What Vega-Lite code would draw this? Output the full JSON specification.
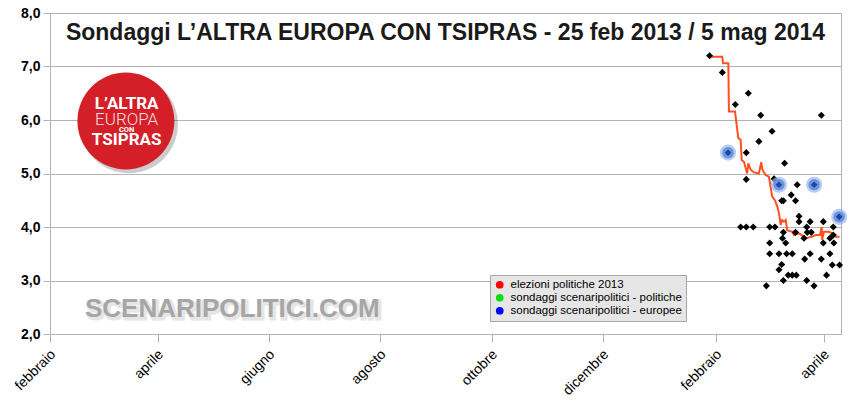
{
  "$schema": "https://vega.github.io/schema/vega-lite/v6.json",
  "width": 791,
  "height": 321,
  "autosize": {"type": "none"},
  "padding": {"left": 50, "top": 13, "right": 15, "bottom": 79},
  "background": "#ffffff",
  "title": {"text": "Sondaggi L’ALTRA EUROPA CON TSIPRAS - 25 feb 2013 / 5 mag 2014", "fontWeight": "bold", "fontSize": 23, "color": "#1a1a1a", "anchor": "middle", "frame": "group", "baseline": "alphabetic", "offset": -57},
  "config": {
    "font": "Liberation Sans",
    "view": {"stroke": "#b3b3b3", "strokeWidth": 1}
  },
  "datasets": {
    "sondaggi": [
      {"date": "2014-01-28T12:00", "value": 7.2},
      {"date": "2014-02-04T11:00", "value": 6.89},
      {"date": "2014-02-18T17:00", "value": 6.5},
      {"date": "2014-02-11T14:00", "value": 6.29},
      {"date": "2014-02-25T12:00", "value": 6.09},
      {"date": "2014-03-30T17:00", "value": 6.09},
      {"date": "2014-03-03T17:00", "value": 5.79},
      {"date": "2014-02-24T12:00", "value": 5.6},
      {"date": "2014-02-17T14:00", "value": 5.39},
      {"date": "2014-03-10T14:00", "value": 5.19},
      {"date": "2014-02-17T14:00", "value": 4.89},
      {"date": "2014-03-04T19:00", "value": 4.9},
      {"date": "2014-03-17T12:00", "value": 4.79},
      {"date": "2014-03-14T05:00", "value": 4.6},
      {"date": "2014-03-16T14:00", "value": 4.49},
      {"date": "2014-03-09T00:00", "value": 4.49},
      {"date": "2014-03-09T22:00", "value": 4.49},
      {"date": "2014-03-18T12:00", "value": 4.2},
      {"date": "2014-03-18T12:00", "value": 4.1},
      {"date": "2014-03-24T14:00", "value": 4.1},
      {"date": "2014-03-31T19:00", "value": 4.1},
      {"date": "2014-02-14T12:00", "value": 4.0},
      {"date": "2014-02-17T14:00", "value": 4.0},
      {"date": "2014-02-21T10:00", "value": 4.0},
      {"date": "2014-03-02T10:00", "value": 4.0},
      {"date": "2014-03-05T07:00", "value": 4.0},
      {"date": "2014-03-22T17:00", "value": 4.0},
      {"date": "2014-04-06T07:00", "value": 4.0},
      {"date": "2014-03-09T22:00", "value": 3.9},
      {"date": "2014-03-16T14:00", "value": 3.9},
      {"date": "2014-03-23T00:00", "value": 3.9},
      {"date": "2014-03-25T05:00", "value": 3.9},
      {"date": "2014-04-06T07:00", "value": 3.85},
      {"date": "2014-04-04T10:00", "value": 3.79},
      {"date": "2014-03-09T10:00", "value": 3.79},
      {"date": "2014-03-21T05:00", "value": 3.79},
      {"date": "2014-03-31T19:00", "value": 3.7},
      {"date": "2014-04-06T14:00", "value": 3.7},
      {"date": "2014-03-02T10:00", "value": 3.7},
      {"date": "2014-03-11T05:00", "value": 3.7},
      {"date": "2014-03-02T10:00", "value": 3.5},
      {"date": "2014-03-07T12:00", "value": 3.5},
      {"date": "2014-03-11T17:00", "value": 3.5},
      {"date": "2014-03-14T19:00", "value": 3.5},
      {"date": "2014-03-24T14:00", "value": 3.5},
      {"date": "2014-04-04T10:00", "value": 3.5},
      {"date": "2014-03-21T14:00", "value": 3.4},
      {"date": "2014-03-30T17:00", "value": 3.4},
      {"date": "2014-04-05T17:00", "value": 3.29},
      {"date": "2014-04-09T17:00", "value": 3.29},
      {"date": "2014-03-09T00:00", "value": 3.3},
      {"date": "2014-03-07T12:00", "value": 3.2},
      {"date": "2014-03-12T14:00", "value": 3.1},
      {"date": "2014-03-14T19:00", "value": 3.1},
      {"date": "2014-03-17T00:00", "value": 3.1},
      {"date": "2014-04-02T14:00", "value": 3.1},
      {"date": "2014-03-09T22:00", "value": 3.0},
      {"date": "2014-03-22T17:00", "value": 3.0},
      {"date": "2014-02-28T14:00", "value": 2.9},
      {"date": "2014-03-26T17:00", "value": 2.9}
    ],
    "europee": [
      {"date": "2014-02-07T14:00", "value": 5.39, "serie": "sondaggi scenaripolitici - europee"},
      {"date": "2014-03-07T12:00", "value": 4.79, "serie": "sondaggi scenaripolitici - europee"},
      {"date": "2014-03-26T19:00", "value": 4.79, "serie": "sondaggi scenaripolitici - europee"},
      {"date": "2014-04-09T12:00", "value": 4.19, "serie": "sondaggi scenaripolitici - europee"}
    ],
    "media": [
      {"date": "2014-01-28T05:00", "value": 7.18},
      {"date": "2014-02-04T11:00", "value": 7.18},
      {"date": "2014-02-04T20:00", "value": 7.06},
      {"date": "2014-02-07T18:00", "value": 7.06},
      {"date": "2014-02-08T02:00", "value": 6.16},
      {"date": "2014-02-11T10:00", "value": 6.16},
      {"date": "2014-02-13T05:00", "value": 5.66},
      {"date": "2014-02-14T12:00", "value": 5.63},
      {"date": "2014-02-15T02:00", "value": 5.25},
      {"date": "2014-02-16T07:00", "value": 5.22},
      {"date": "2014-02-18T02:00", "value": 5.0},
      {"date": "2014-02-18T17:00", "value": 5.19},
      {"date": "2014-02-20T00:00", "value": 5.07},
      {"date": "2014-02-21T19:00", "value": 5.02},
      {"date": "2014-02-24T12:00", "value": 5.0},
      {"date": "2014-02-25T19:00", "value": 5.21},
      {"date": "2014-02-26T10:00", "value": 5.07},
      {"date": "2014-02-28T05:00", "value": 4.97},
      {"date": "2014-03-02T00:00", "value": 4.94},
      {"date": "2014-03-03T19:00", "value": 4.57},
      {"date": "2014-03-05T07:00", "value": 4.5},
      {"date": "2014-03-06T14:00", "value": 4.38},
      {"date": "2014-03-07T12:00", "value": 4.26},
      {"date": "2014-03-08T10:00", "value": 4.04},
      {"date": "2014-03-09T07:00", "value": 4.13},
      {"date": "2014-03-10T05:00", "value": 4.1},
      {"date": "2014-03-11T05:00", "value": 4.13},
      {"date": "2014-03-12T00:00", "value": 3.94},
      {"date": "2014-03-14T19:00", "value": 3.91},
      {"date": "2014-03-15T17:00", "value": 3.85},
      {"date": "2014-03-18T12:00", "value": 3.88},
      {"date": "2014-03-21T05:00", "value": 3.82},
      {"date": "2014-03-22T07:00", "value": 3.79},
      {"date": "2014-03-25T17:00", "value": 3.82},
      {"date": "2014-03-27T14:00", "value": 3.85},
      {"date": "2014-03-30T00:00", "value": 3.85},
      {"date": "2014-03-30T22:00", "value": 4.0},
      {"date": "2014-03-31T05:00", "value": 3.76},
      {"date": "2014-04-01T02:00", "value": 3.91},
      {"date": "2014-04-03T22:00", "value": 3.91},
      {"date": "2014-04-05T17:00", "value": 3.88},
      {"date": "2014-04-07T14:00", "value": 3.82},
      {"date": "2014-04-09T17:00", "value": 3.82}
    ]
  },
  "layer": [
    {
      "data": {"name": "media"},
      "mark": {"type": "line", "opacity": 0},
      "encoding": {
        "x": {
          "field": "date",
          "type": "temporal",
          "title": null,
          "scale": {"domain": [{"year": 2013, "month": 2, "date": 1}, {"year": 2014, "month": 4, "date": 10, "hours": 12}]},
          "axis": {
            "values": [
              {"year": 2013, "month": 2, "date": 1},
              {"year": 2013, "month": 4, "date": 1},
              {"year": 2013, "month": 6, "date": 1},
              {"year": 2013, "month": 8, "date": 1},
              {"year": 2013, "month": 10, "date": 1},
              {"year": 2013, "month": 12, "date": 1},
              {"year": 2014, "month": 2, "date": 1},
              {"year": 2014, "month": 4, "date": 1}
            ],
            "labelExpr": "['gennaio','febbraio','marzo','aprile','maggio','giugno','luglio','agosto','settembre','ottobre','novembre','dicembre'][month(datum.value)]",
            "grid": false,
            "domainColor": "#b3b3b3",
            "tickColor": "#b3b3b3",
            "tickSize": 8,
            "labelAngle": -45,
            "labelAlign": "right",
            "labelBaseline": "middle",
            "labelPadding": 10,
            "labelOffset": 3,
            "labelFontSize": 14,
            "labelColor": "#000000",
            "labelOverlap": false,
            "labelFlush": false
          }
        },
        "y": {
          "field": "value",
          "type": "quantitative",
          "title": null,
          "scale": {"domain": [2, 8], "nice": false, "zero": false},
          "axis": {
            "values": [2, 3, 4, 5, 6, 7, 8],
            "labelExpr": "replace(format(datum.value, '.1f'), '.', ',')",
            "grid": true,
            "gridColor": "#b3b3b3",
            "domainColor": "#b3b3b3",
            "tickColor": "#b3b3b3",
            "tickSize": 7,
            "labelPadding": 3,
            "labelFontSize": 14,
            "labelFontWeight": "bold",
            "labelColor": "#000000",
            "labelFlush": false
          }
        }
      }
    },
    {
      "data": {"values": [{"elemento": "logo"}]},
      "mark": {"type": "circle", "color": "#000000", "opacity": 0.2, "size": 9600},
      "encoding": {
        "x": {"datum": {"year": 2013, "month": 3, "date": 16, "hours": 6}, "type": "temporal"},
        "y": {"datum": 5.92, "type": "quantitative"}
      }
    },
    {
      "data": {"values": [{"elemento": "logo"}]},
      "mark": {"type": "circle", "color": "#d41f28", "opacity": 1, "size": 9400},
      "encoding": {
        "x": {"datum": {"year": 2013, "month": 3, "date": 14, "hours": 14}, "type": "temporal"},
        "y": {"datum": 5.98, "type": "quantitative"}
      }
    },
    {
      "data": {"values": [{"elemento": "logo"}]},
      "mark": {"type": "text", "text": "L’ALTRA", "font": "Roboto", "fontWeight": "bold", "fontSize": 17, "color": "#ffffff", "align": "center", "baseline": "alphabetic"},
      "encoding": {
        "x": {"datum": {"year": 2013, "month": 3, "date": 15}, "type": "temporal"},
        "y": {"datum": 6.2, "type": "quantitative"}
      }
    },
    {
      "data": {"values": [{"elemento": "logo"}]},
      "mark": {"type": "text", "text": "EUROPA", "font": "Roboto", "fontWeight": 300, "fontSize": 17, "color": "#f6dede", "align": "center", "baseline": "alphabetic"},
      "encoding": {
        "x": {"datum": {"year": 2013, "month": 3, "date": 15}, "type": "temporal"},
        "y": {"datum": 5.907, "type": "quantitative"}
      }
    },
    {
      "data": {"values": [{"elemento": "logo"}]},
      "mark": {"type": "text", "text": "CON", "font": "Roboto", "fontWeight": "bold", "fontSize": 7.5, "color": "#ffffff", "align": "center", "baseline": "alphabetic"},
      "encoding": {
        "x": {"datum": {"year": 2013, "month": 3, "date": 15}, "type": "temporal"},
        "y": {"datum": 5.781, "type": "quantitative"}
      }
    },
    {
      "data": {"values": [{"elemento": "logo"}]},
      "mark": {"type": "text", "text": "TSIPRAS", "font": "Roboto", "fontWeight": "bold", "fontSize": 17, "color": "#ffffff", "align": "center", "baseline": "alphabetic"},
      "encoding": {
        "x": {"datum": {"year": 2013, "month": 3, "date": 15}, "type": "temporal"},
        "y": {"datum": 5.527, "type": "quantitative"}
      }
    },
    {
      "data": {"values": [{"elemento": "watermark"}]},
      "mark": {"type": "text", "text": "SCENARIPOLITICI.COM", "fontWeight": "bold", "fontSize": 26, "color": "#d6d6d6", "stroke": "#d6d6d6", "strokeWidth": 3, "opacity": 0.6, "align": "center", "baseline": "alphabetic", "dx": 2, "dy": 2},
      "encoding": {
        "x": {"datum": {"year": 2013, "month": 5, "date": 11, "hours": 22}, "type": "temporal"},
        "y": {"datum": 2.31, "type": "quantitative"}
      }
    },
    {
      "data": {"values": [{"elemento": "watermark"}]},
      "mark": {"type": "text", "text": "SCENARIPOLITICI.COM", "fontWeight": "bold", "fontSize": 26, "color": "#a6a6a6", "align": "center", "baseline": "alphabetic"},
      "encoding": {
        "x": {"datum": {"year": 2013, "month": 5, "date": 11, "hours": 22}, "type": "temporal"},
        "y": {"datum": 2.31, "type": "quantitative"}
      }
    },
    {
      "data": {"name": "media"},
      "mark": {"type": "line", "color": "#ff5020", "strokeWidth": 2, "interpolate": "linear"},
      "encoding": {
        "x": {"field": "date", "type": "temporal"},
        "y": {"field": "value", "type": "quantitative"}
      }
    },
    {
      "data": {"name": "sondaggi"},
      "mark": {"type": "point", "shape": "diamond", "filled": true, "color": "#000000", "opacity": 1, "size": 50},
      "encoding": {
        "x": {"field": "date", "type": "temporal"},
        "y": {"field": "value", "type": "quantitative"}
      }
    },
    {
      "data": {"name": "europee"},
      "mark": {"type": "circle", "color": "#9ab8ee", "opacity": 0.7, "size": 260},
      "encoding": {
        "x": {"field": "date", "type": "temporal"},
        "y": {"field": "value", "type": "quantitative"}
      }
    },
    {
      "data": {"name": "europee"},
      "mark": {"type": "circle", "color": "#5f8ad9", "opacity": 0.85, "size": 130},
      "encoding": {
        "x": {"field": "date", "type": "temporal"},
        "y": {"field": "value", "type": "quantitative"}
      }
    },
    {
      "data": {"name": "europee"},
      "mark": {"type": "point", "shape": "diamond", "filled": true, "color": "#1f46a3", "opacity": 1, "size": 45},
      "encoding": {
        "x": {"field": "date", "type": "temporal"},
        "y": {"field": "value", "type": "quantitative"}
      }
    },
    {
      "data": {"name": "europee"},
      "mark": {"type": "circle", "opacity": 0},
      "encoding": {
        "x": {"field": "date", "type": "temporal"},
        "y": {"field": "value", "type": "quantitative"},
        "color": {
          "field": "serie",
          "type": "nominal",
          "scale": {
            "domain": ["elezioni politiche 2013", "sondaggi scenaripolitici - politiche", "sondaggi scenaripolitici - europee"],
            "range": ["#ff0000", "#11dd11", "#0000ff"]
          },
          "legend": {
            "title": null,
            "orient": "none",
            "legendX": 440,
            "legendY": 262,
            "fillColor": "#e6e6e6",
            "strokeColor": "#a6a6a6",
            "padding": 4,
            "symbolType": "circle",
            "symbolSize": 60,
            "symbolOpacity": 1,
            "symbolStrokeWidth": 0,
            "labelFontSize": 11.5,
            "labelColor": "#000000",
            "labelLimit": 300,
            "labelOffset": 5,
            "rowPadding": 0
          }
        }
      }
    }
  ]
}
